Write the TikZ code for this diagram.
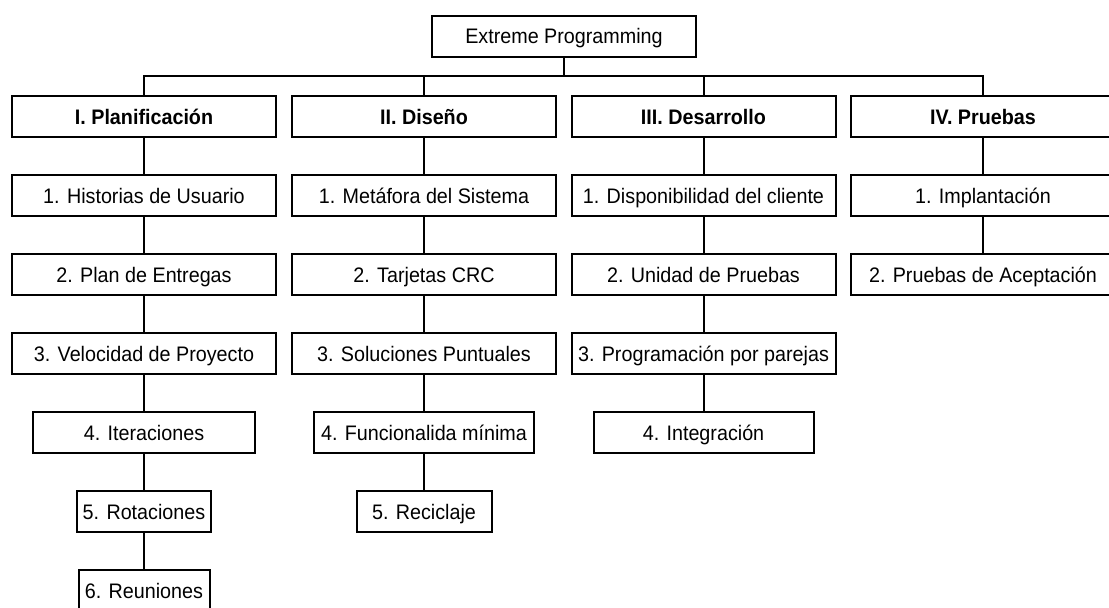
\documentclass[tikz,border=0pt]{standalone}
\usepackage{fontspec}
\setmainfont{Liberation Sans}[FakeStretch=0.94]
\begin{document}
\begin{tikzpicture}[x=1pt,y=1pt,node distance=79pt,line width=2pt,
		base node/.style={rectangle,draw,minimum width=264pt,minimum height=41pt,inner sep=0pt,text height=15pt,text depth=0pt,font=\fontsize{21}{22}\selectfont},
		head node/.style={base node,font=\fontsize{21}{22}\selectfont\bfseries}]
		\useasboundingbox (0,0) rectangle (1109,-608);
		% 阶段
		\node[base node] (xp) at (564,-36) {Extreme Programming};
		\node[head node] (plan) at (144,-116.5) {I. Planificación};
		\node[head node] (dis) [right of=plan, node distance=280pt] {II. Diseño};
		\node[head node] (des) [right of=dis, node distance=279.5pt] {III. Desarrollo};
		\node[head node] (prue) [right of=des, node distance=279.5pt] {IV. Pruebas};
		
		\node[base node] (hist) [below of=plan] {1. Historias de Usuario};
		\node[base node] (entr) [below of=hist] {2. Plan de Entregas};
		\node[base node] (velo) [below of=entr] {3. Velocidad de Proyecto};
		\node[base node, minimum width=222pt] (iter) [below of=velo] {4. Iteraciones};
		\node[base node, minimum width=134pt] (rota) [below of=iter] {5. Rotaciones};
		\node[base node, minimum width=131pt] (reun) [below of=rota] {6. Reuniones};
		
		\node[base node] (meta) [below of=dis] {1. Metáfora del Sistema};
		\node[base node] (crc) [below of=meta] {2. Tarjetas CRC};
		\node[base node] (sol) [below of=crc] {3. Soluciones Puntuales};
		\node[base node, minimum width=220pt] (func) [below of=sol] {4. Funcionalida mínima};
		\node[base node, minimum width=135pt] (reci) [below of=func] {5. Reciclaje};
		
		\node[base node] (disp) [below of=des] {1. Disponibilidad del cliente};
		\node[base node] (unid) [below of=disp] {2. Unidad de Pruebas};
		\node[base node] (pare) [below of=unid] {3. Programación por parejas};
		\node[base node, minimum width=220pt] (inte) [below of=pare] {4. Integración};
		
		\node[base node] (impl) [below of=prue] {1. Implantación};
		\node[base node] (acep) [below of=impl] {2. Pruebas de Aceptación};
		
		\coordinate (bus) at (564,-76);
		\draw (xp) -- (bus);
		\draw (plan) |- (bus) -| (prue);
		\draw (dis) -- (dis |- bus);
		\draw (des) -- (des |- bus);
		\path
		(plan) edge (hist)
		(hist) edge (entr)
		(entr) edge (velo)
		(velo) edge (iter)
		(iter) edge (rota)
		(rota) edge (reun)
		(dis) edge (meta)
		(meta) edge (crc)
		(crc) edge (sol)
		(sol) edge (func)
		(func) edge (reci)
		(des) edge (disp)
		(disp) edge (unid)
		(unid) edge (pare)
		(pare) edge (inte)
		(prue) edge (impl)
		(impl) edge (acep);
		\end{tikzpicture}
\end{document}
